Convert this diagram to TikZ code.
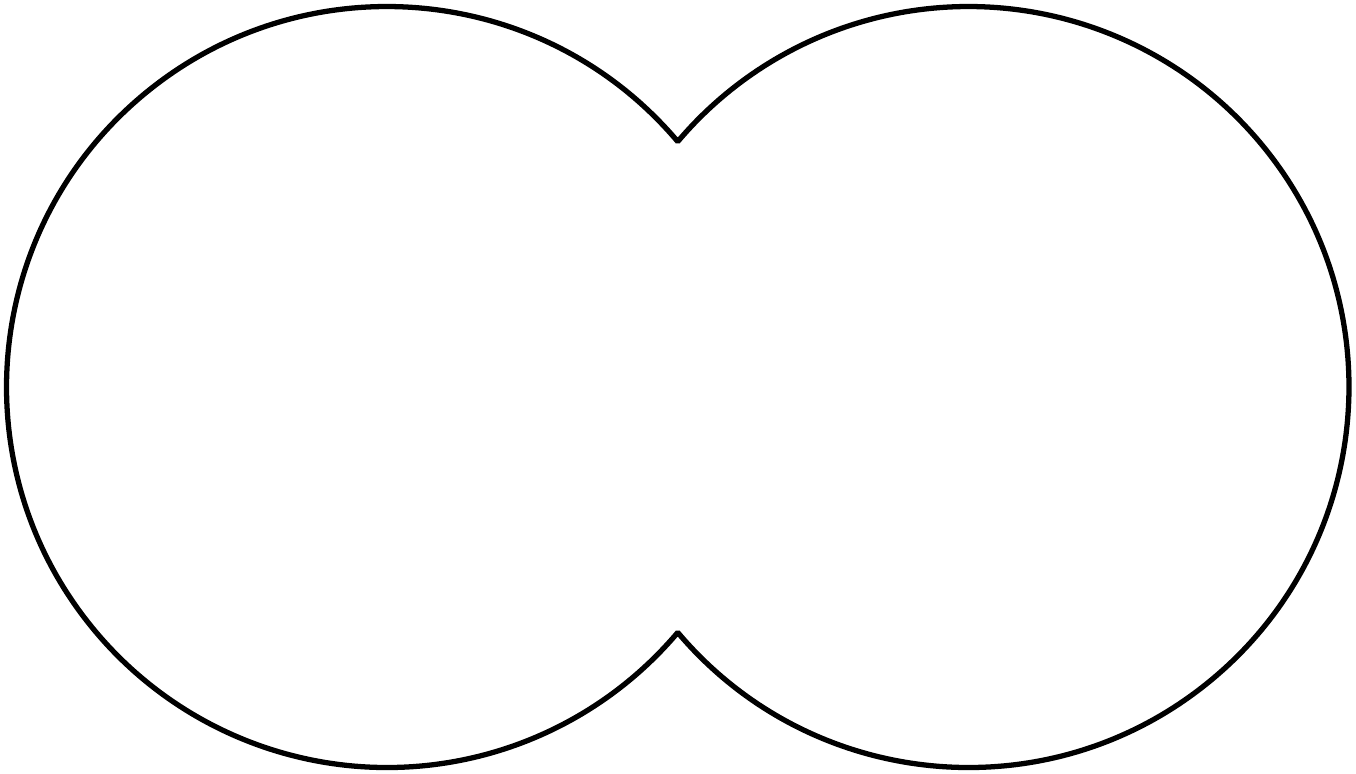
\documentclass[tikz,border=0pt]{standalone}
\usepackage{tikz}

\begin{document}
\begin{tikzpicture}[
  outline/.style={line width=1.5pt, black, line join=bevel}
]
\useasboundingbox (0,0) rectangle (13.56,7.74);
\coordinate (L) at (3.87,3.87);
\coordinate (R) at (9.685,3.87);
\coordinate (top) at (6.7775,6.324);

\draw[outline] (top) arc[start angle=40.17, end angle=319.83, radius=3.805]
  arc[start angle=220.17, end angle=499.83, radius=3.805] -- cycle;
\end{tikzpicture}
\end{document}
